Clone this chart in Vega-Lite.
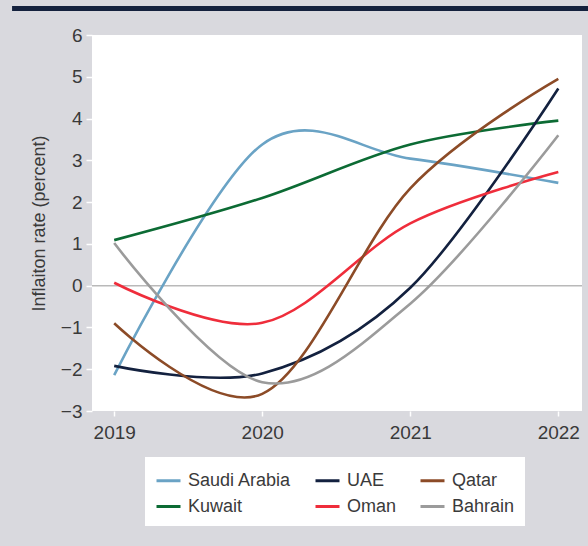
{
  "$schema": "https://vega.github.io/schema/vega-lite/v6.json",
  "width": 490,
  "height": 376,
  "autosize": {"type": "none"},
  "padding": {"left": 92, "top": 35, "right": 6, "bottom": 135},
  "background": "#d9d9de",
  "config": {
    "view": {"fill": "white", "stroke": null},
    "font": "Liberation Sans"
  },
  "datasets": {
    "series": [
      {"year": 2019, "country": "Saudi Arabia", "value": -2.14},
      {"year": 2020, "country": "Saudi Arabia", "value": 3.38},
      {"year": 2021, "country": "Saudi Arabia", "value": 3.04},
      {"year": 2022, "country": "Saudi Arabia", "value": 2.46},
      {"year": 2019, "country": "Kuwait", "value": 1.09},
      {"year": 2020, "country": "Kuwait", "value": 2.1},
      {"year": 2021, "country": "Kuwait", "value": 3.38},
      {"year": 2022, "country": "Kuwait", "value": 3.95},
      {"year": 2019, "country": "UAE", "value": -1.92},
      {"year": 2020, "country": "UAE", "value": -2.1},
      {"year": 2021, "country": "UAE", "value": -0.05},
      {"year": 2022, "country": "UAE", "value": 4.72},
      {"year": 2019, "country": "Oman", "value": 0.07},
      {"year": 2020, "country": "Oman", "value": -0.89},
      {"year": 2021, "country": "Oman", "value": 1.49},
      {"year": 2022, "country": "Oman", "value": 2.72},
      {"year": 2019, "country": "Qatar", "value": -0.9},
      {"year": 2020, "country": "Qatar", "value": -2.59},
      {"year": 2021, "country": "Qatar", "value": 2.33},
      {"year": 2022, "country": "Qatar", "value": 4.95},
      {"year": 2019, "country": "Bahrain", "value": 1.02},
      {"year": 2020, "country": "Bahrain", "value": -2.31},
      {"year": 2021, "country": "Bahrain", "value": -0.43},
      {"year": 2022, "country": "Bahrain", "value": 3.6}
    ],
    "zero": [{"value": 0}],
    "band": [{"x1": 2018.31, "x2": 2022.4, "y1": 6.575, "y2": 6.695}]
  },
  "layer": [
    {
      "data": {"name": "band"},
      "mark": {"type": "rect", "color": "#14213d", "clip": false},
      "encoding": {
        "x": {"field": "x1", "type": "quantitative", "scale": {"domain": [2018.85, 2022.16], "nice": false, "zero": false}},
        "x2": {"field": "x2"},
        "y": {"field": "y1", "type": "quantitative", "scale": {"domain": [-3, 6], "nice": false, "zero": false}},
        "y2": {"field": "y2"}
      }
    },
    {
      "data": {"name": "zero"},
      "mark": {"type": "rule", "color": "#b9b9b9", "strokeWidth": 1.5},
      "encoding": {
        "y": {"field": "value", "type": "quantitative"}
      }
    },
    {
      "data": {"name": "series"},
      "mark": {"type": "line", "interpolate": "cardinal", "strokeWidth": 2.6},
      "encoding": {
        "x": {
          "field": "year", "type": "quantitative",
          "axis": {
            "title": null, "values": [2019, 2020, 2021, 2022], "format": "d",
            "domain": false, "grid": false, "tickColor": "white", "tickSize": 5, "tickWidth": 1.5,
            "labelFontSize": 19, "labelColor": "#3a3a3a", "labelPadding": 7
          }
        },
        "y": {
          "field": "value", "type": "quantitative",
          "axis": {
            "title": "Inflaiton rate (percent)", "titleFontSize": 18, "titleFontWeight": "normal", "titleColor": "#3a3a3a", "titlePadding": 12,
            "values": [-3, -2, -1, 0, 1, 2, 3, 4, 5, 6],
            "domain": false, "grid": false, "tickColor": "white", "tickSize": 6, "tickWidth": 1.5,
            "labelFontSize": 19, "labelColor": "#3a3a3a", "labelPadding": 4
          }
        },
        "color": {
          "field": "country", "type": "nominal",
          "scale": {
            "domain": ["Saudi Arabia", "UAE", "Qatar", "Kuwait", "Oman", "Bahrain"],
            "range": ["#6aa3c5", "#13213f", "#8c4b27", "#0c6b34", "#ef2d3b", "#9b9b9b"]
          },
          "legend": {
            "title": null, "orient": "none", "legendX": 53, "legendY": 422,
            "direction": "horizontal", "columns": 3, "columnPadding": 17, "rowPadding": 3,
            "fillColor": "white", "padding": 10,
            "symbolType": "stroke", "symbolSize": 576, "symbolStrokeWidth": 3,
            "labelFontSize": 18, "labelColor": "#3a3a3a", "labelOffset": 6
          }
        }
      }
    }
  ]
}
